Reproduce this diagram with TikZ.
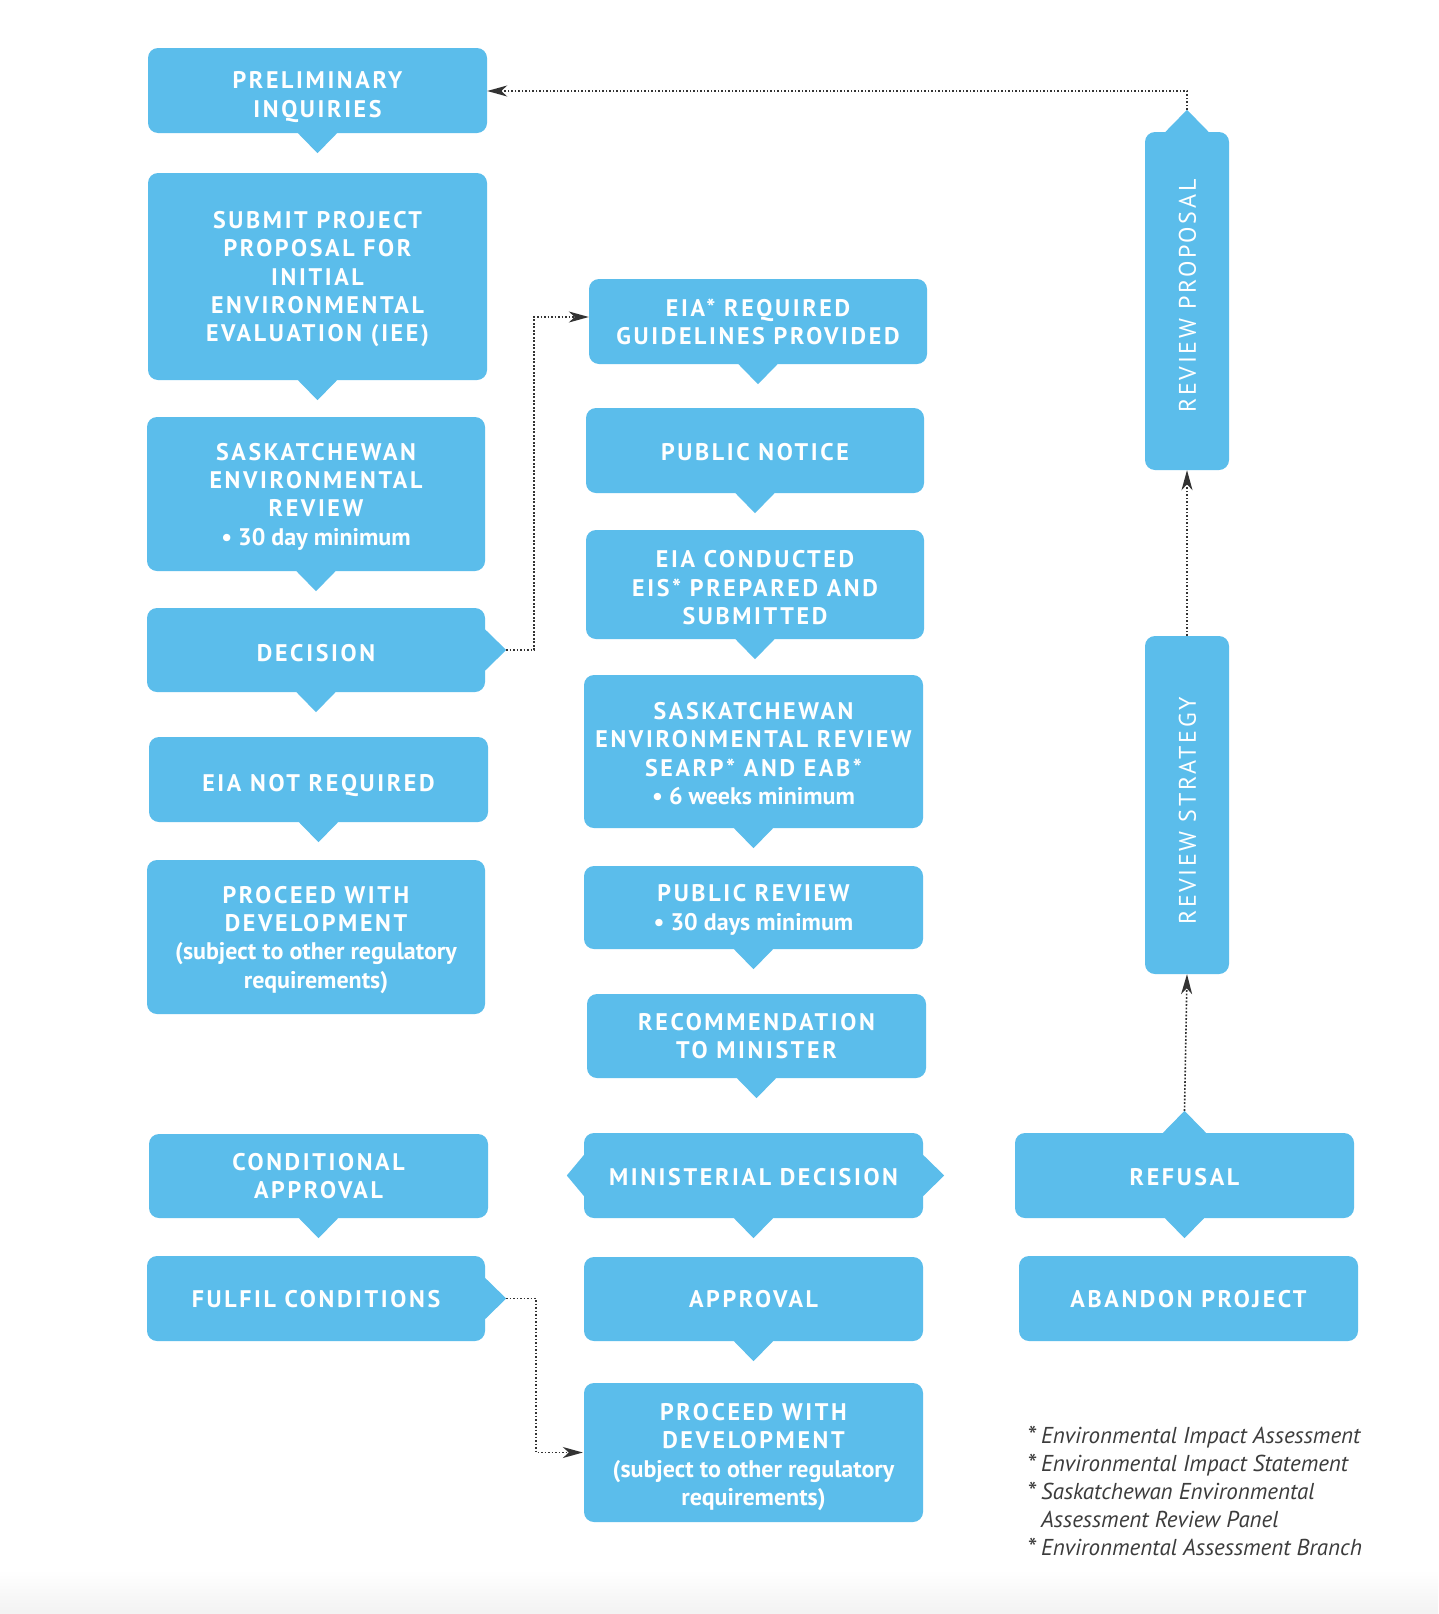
\documentclass[tikz,border=0pt]{standalone}
\usepackage{fontspec}
\setmainfont{PT Sans}
\newfontfamily\capsfont[LetterSpace=11]{PT Sans}
\newfontfamily\plainfont{PT Sans}
\usetikzlibrary{arrows.meta,calc}
\definecolor{boxblue}{HTML}{5BBDEB}
\definecolor{dotgrey}{HTML}{333333}
\definecolor{notegrey}{HTML}{3C3C3C}
\newcommand\lowtxt[1]{{\plainfont\bfseries #1}}
\newcommand\firstlift[1]{\rule{0pt}{#1}}
\newcommand\notestar{\makebox[14pt][l]{\raisebox{-2pt}{\fontsize{27}{27}\selectfont *}}}
\newcommand\bx[7][]{\node[box, #1, minimum width={#4-#3}, minimum height={#6-#5}] (#2) at ({(#3+#4)/2},{(#5+#6)/2}) {#7};}
\newcommand\pdown[1]{\fill[boxblue] ([xshift=-20pt,yshift=0.5pt]#1.south) -- ([yshift=-20pt]#1.south) -- ([xshift=20pt,yshift=0.5pt]#1.south) -- cycle;}
\newcommand\pup[1]{\fill[boxblue] ([xshift=-22pt,yshift=-0.5pt]#1.north) -- ([yshift=22pt]#1.north) -- ([xshift=22pt,yshift=-0.5pt]#1.north) -- cycle;}
\newcommand\pright[1]{\fill[boxblue] ([xshift=-0.5pt,yshift=21pt]#1.east) -- ([xshift=21pt]#1.east) -- ([xshift=-0.5pt,yshift=-21pt]#1.east) -- cycle;}
\newcommand\pleft[1]{\fill[boxblue] ([xshift=0.5pt,yshift=21pt]#1.west) -- ([xshift=-17pt]#1.west) -- ([xshift=0.5pt,yshift=-21pt]#1.west) -- cycle;}
\begin{document}
\begin{tikzpicture}[x=1pt,y=-1pt,
  box/.style={fill=boxblue, rounded corners=10pt, inner sep=0pt, text=white, align=center,
    text depth=-5pt, font=\capsfont\bfseries\fontsize{24}{28.3}\selectfont},
  lift/.style={execute at begin node={\rule{0pt}{#1}}},
  rottxt/.style={rotate=90, text=white, inner sep=0pt, font=\capsfont\fontsize{24}{28}\selectfont},
  dotarrow/.style={draw=dotgrey, line width=1.6pt, dash pattern=on 1.6pt off 1.9pt,
    -{Stealth[length=20pt,width=11pt,inset=6pt]}},
  note/.style={align=left, inner sep=0pt, text=notegrey, anchor=base west,
    font=\plainfont\itshape\fontsize{23}{27.8}\selectfont}]
\fill[white] (0,0) rectangle (1438,1614);
\useasboundingbox (0,0) rectangle (1438,1614);
\shade[top color=white, bottom color=black!5] (0,1570) rectangle (1438,1614);

% left column
\bx{prelim}{148}{487}{48}{133}{\firstlift{25pt}PRELIMINARY\\INQUIRIES}
\bx{submit}{148}{487}{173}{380}{SUBMIT PROJECT\\PROPOSAL FOR\\INITIAL\\ENVIRONMENTAL\\EVALUATION (IEE)}
\bx{saskL}{147}{485}{417}{571}{SASKATCHEWAN\\ENVIRONMENTAL\\REVIEW\\\lowtxt{• 30 day minimum}}
\bx[lift=23pt]{decision}{147}{485}{608}{692}{DECISION}
\bx[lift=23pt]{eianot}{149}{488}{737}{822}{EIA NOT REQUIRED}
\bx{proceedL}{147}{485}{860}{1014}{PROCEED WITH\\DEVELOPMENT\\\lowtxt{(subject to other regulatory}\\\lowtxt{requirements)}}
\bx{condappr}{149}{488}{1134}{1218}{CONDITIONAL\\APPROVAL}
\bx{fulfil}{147}{485}{1256}{1341}{FULFIL CONDITIONS}

% middle column
\bx[text depth=-1pt]{eiareq}{589}{927}{279}{364}{EIA* REQUIRED\\GUIDELINES PROVIDED}
\bx[lift=19pt]{pubnotice}{586}{924}{408}{493}{PUBLIC NOTICE}
\bx{eiacond}{586}{924}{530}{639}{\firstlift{23pt}EIA CONDUCTED\\EIS* PREPARED AND\\SUBMITTED}
\bx{saskM}{584}{923}{675}{828}{\firstlift{21pt}SASKATCHEWAN\\ENVIRONMENTAL REVIEW\\SEARP* AND EAB*\\\lowtxt{• 6 weeks minimum}}
\bx{pubreview}{584}{923}{866}{949}{PUBLIC REVIEW\\\lowtxt{• 30 days minimum}}
\bx{recomm}{587}{926}{994}{1078}{RECOMMENDATION\\TO MINISTER}
\bx[lift=19pt]{mindec}{584}{923}{1133}{1218}{MINISTERIAL DECISION}
\bx{approval}{584}{923}{1257}{1341}{APPROVAL}
\bx{proceedM}{584}{923}{1383}{1522}{\firstlift{21pt}PROCEED WITH\\DEVELOPMENT\\\lowtxt{(subject to other regulatory}\\\lowtxt{requirements)}}

% right column
\bx{revprop}{1145}{1229}{132}{470}{}
\bx{revstrat}{1145}{1229}{636}{974}{}
\node[rottxt] (revpropT) at (1187.5,296) {REVIEW PROPOSAL};
\node[rottxt] (revstratT) at (1187.5,811) {REVIEW STRATEGY};
\bx[lift=19pt]{refusal}{1015}{1354}{1133}{1218}{REFUSAL}
\bx{abandon}{1019}{1358}{1256}{1341}{ABANDON PROJECT}

% pointers
\foreach \n in {prelim,submit,saskL,decision,eianot,condappr,eiareq,pubnotice,eiacond,saskM,pubreview,recomm,mindec,approval,refusal}{\pdown{\n}}
\pright{decision}
\pright{fulfil}
\pright{mindec}
\pleft{mindec}
\pup{revprop}
\pup{refusal}

% tip coordinates
\coordinate (decT) at ([xshift=21pt]decision.east);
\coordinate (fulT) at ([xshift=21pt]fulfil.east);
\coordinate (propT) at ([yshift=22pt]revprop.north);
\coordinate (refT) at ([yshift=22pt]refusal.north);

% connectors
\draw[dotarrow] (propT) |- ([yshift=-0.5pt]prelim.east);
\draw[dotarrow] (decT) -- ++(28,0) |- ([yshift=4.5pt]eiareq.west);
\draw[dotarrow] (fulT) -- ++(30,0) |- ([xshift=-1pt]proceedM.west);
\draw[dotarrow] (revstrat.north) -- (revprop.south);
\draw[dotarrow] (refT) -- (revstrat.south);

% footnotes
\node[note] (notes) at (1027,1555) {\notestar Environmental Impact Assessment\\
\notestar Environmental Impact Statement\\
\notestar Saskatchewan Environmental\\
\makebox[14pt][l]{}Assessment Review Panel\\
\notestar Environmental Assessment Branch};
\end{tikzpicture}
\end{document}
